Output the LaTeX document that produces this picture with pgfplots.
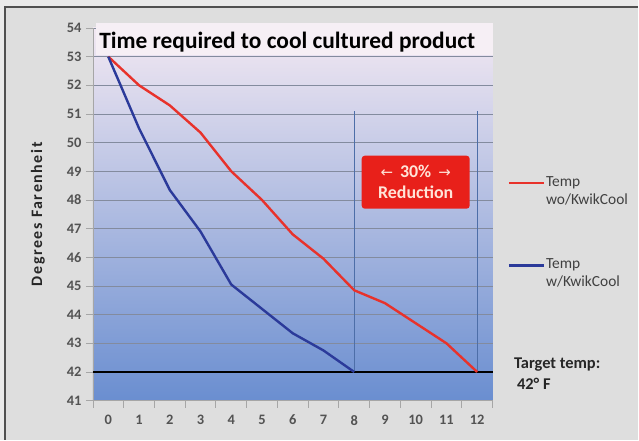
\documentclass[border=0pt]{standalone}
\usepackage{pgfplots}
\pgfplotsset{compat=1.18}
\usepackage{fontspec}
\setmainfont{Carlito}
\newfontfamily\dejavu{DejaVu Sans}
\newfontfamily\spaced[LetterSpace=10]{Carlito}
\definecolor{outerbg}{HTML}{EAEAEA}
\definecolor{innerbg}{HTML}{DEDEDE}
\definecolor{framecol}{HTML}{505050}
\definecolor{redline}{HTML}{E8322B}
\definecolor{blueline}{HTML}{2B3A9A}
\definecolor{gridcol}{HTML}{838B9E}
\definecolor{vlinecol}{HTML}{4D6EA8}
\definecolor{plottop}{HTML}{F2E8F2}
\definecolor{plotmid}{HTML}{A3C1EC}
\definecolor{plotbot}{HTML}{6A8ED0}
\definecolor{titlebg}{HTML}{F6EFF5}
\definecolor{boxred}{HTML}{E8201A}
\definecolor{boxtext}{HTML}{FFE4D8}
\definecolor{ticktext}{HTML}{404040}
\begin{document}
\begin{tikzpicture}
\fill[outerbg] (0,0) rectangle (639bp,440bp);
\fill[innerbg] (5bp,0) rectangle (639bp,433bp);
\draw[framecol, line width=1.2bp] (5bp,0) -- (5bp,433bp) -- (639bp,433bp);
\begin{axis}[
  at={(93bp,39bp)}, anchor=south west,
  scale only axis, width=400bp, height=373bp,
  xmin=-0.5, xmax=12.5, ymin=41, ymax=54,
  xtick={-0.5,0.5,...,12.5},
  x tick label as interval,
  xticklabels={0,1,2,3,4,5,6,7,8,9,10,11,12},
  ytick={41,42,...,54},
  axis lines*=left,
  axis line style={draw=gray!70, line width=0.8bp},
  tick align=outside,
  major tick length=7bp,
  tick style={draw=gray!70, line width=0.8bp},
  ymajorgrids,
  grid style={draw=gridcol, line width=0.8bp},
  tick label style={font=\bfseries\fontsize{14.5}{16}\selectfont, text=ticktext!90},
  /pgf/number format/assume math mode=true,
  xticklabel style={yshift=-4bp},
  yticklabel style={xshift=-1bp},
  ylabel={\spaced Degrees Farenheit},
  ylabel style={at={(axis description cs:-0.138,0.5)}, anchor=center, font=\bfseries\fontsize{16}{18}\selectfont, text=black!85},
  axis background/.style={shade, top color=plottop, middle color=plotmid, bottom color=plotbot},
  clip=false,
  legend style={at={(1.03,0.61)}, anchor=north west, draw=none, fill=none,
    font=\fontsize{15.5}{18}\selectfont, text=ticktext,
    nodes={align=left, inner sep=1bp}, row sep=51bp},
  legend cell align=left,
  legend image code/.code={\draw[#1] (0bp,8bp) -- (35bp,8bp); \path (0bp,-8bp);},
]
\fill[titlebg] (axis cs:-0.4,53.05) rectangle (axis cs:12.5,54.18);
\node[anchor=base west, font=\bfseries\fontsize{23.5}{26}\selectfont, inner sep=0pt] at (axis cs:-0.3,53.3) {Time required to cool cultured product};
\addplot[vlinecol, line width=1bp, forget plot] coordinates {(8,51.1) (8,42)};
\addplot[vlinecol, line width=1bp, forget plot] coordinates {(12,51.1) (12,42)};
\addplot[black, line width=2.2bp, forget plot] coordinates {(-0.5,42) (12.5,42)};
\addplot[redline, line width=2.4bp] coordinates {
 (0,53) (1,52) (2,51.3) (3,50.35) (4,49) (5,48) (6,46.8) (7,45.95) (8,44.85) (9,44.4) (10,43.7) (11,43) (12,42)};
\addlegendentry{Temp\\wo/KwikCool}
\addplot[blueline, line width=2.4bp] coordinates {
 (0,53) (1,50.5) (2,48.35) (3,46.9) (4,45.05) (5,44.2) (6,43.35) (7,42.75) (8,42)};
\addlegendentry{Temp\\w/KwikCool}
\node[fill=boxred, rounded corners=3bp, minimum width=108bp, minimum height=53bp, text=boxtext, font=\bfseries\fontsize{18}{21}\selectfont, align=center, inner sep=2bp] at (axis cs:10,48.62) {{\dejavu\mdseries\fontsize{15}{21}\selectfont ←}\, 30\%\, {\dejavu\mdseries\fontsize{15}{21}\selectfont →}\\Reduction};
\end{axis}
\node[anchor=base west, font=\bfseries\fontsize{16.5}{19}\selectfont, text=black!85] at (511bp,71bp) {Target temp:};
\node[anchor=base west, font=\bfseries\fontsize{16.5}{19}\selectfont, text=black!85] at (514bp,50bp) {42° F};
\end{tikzpicture}
\end{document}
